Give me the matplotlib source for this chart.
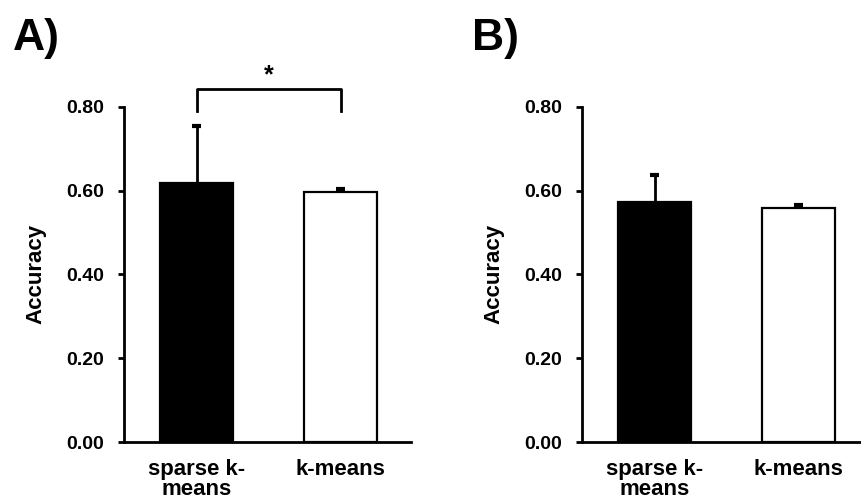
import numpy as np
import matplotlib.pyplot as plt

plt.rcParams['font.family'] = ['Liberation Sans', 'DejaVu Sans']
plt.rcParams['font.weight'] = 'bold'

# data
categories = ['sparse k-\nmeans', 'k-means']
acc_a = [0.618, 0.597]
err_a = [0.137, 0.008]
acc_b = [0.573, 0.558]
err_b = [0.065, 0.007]
yticks = [0.0, 0.2, 0.4, 0.6, 0.8]
panel_labels = ['A)', 'B)']

fig = plt.figure(figsize=(8.62, 5.04), dpi=100)
ax_a = fig.add_axes([0.1439, 0.123, 0.333, 0.665])
ax_b = fig.add_axes([0.675, 0.123, 0.333, 0.665])

x = np.arange(len(categories))
for ax, vals, errs in [(ax_a, acc_a, err_a), (ax_b, acc_b, err_b)]:
    ax.bar(x, vals, width=0.51, color=['black', 'white'], edgecolor='black',
           linewidth=1.6, zorder=2)
    # upper error bars only
    tops = np.array(vals) + np.array(errs)
    ax.vlines(x, vals, tops, color='black', lw=2, clip_on=False, zorder=1)
    ax.hlines(tops, x - 0.03, x + 0.03, color='black', lw=3, clip_on=False, zorder=1)
    ax.set_xlim(-0.505, 1.49)
    ax.set_ylim(0, 0.8)
    ax.set_yticks(yticks)
    ax.set_yticklabels([f'{v:.2f}' for v in yticks], fontsize=14, fontweight='bold')
    ax.set_xticks(x)
    ax.set_xticklabels(categories, fontsize=16, fontweight='bold', linespacing=0.95)
    ax.tick_params(axis='x', length=0, pad=12)
    ax.tick_params(axis='y', length=4.5, width=2, direction='out', pad=10)
    for s in ['top', 'right']:
        ax.spines[s].set_visible(False)
    for s in ['left', 'bottom']:
        ax.spines[s].set_linewidth(2)
    ax.set_ylabel('Accuracy', fontsize=16, fontweight='bold', labelpad=14)

# significance bracket on panel A
y_br = 0.843
ax_a.plot([x[0], x[0], x[1], x[1]], [0.79, y_br, y_br, 0.79], color='black',
          lw=2, clip_on=False)
ax_a.text((x[0] + x[1]) / 2, y_br + 0.004, '*', ha='center', va='bottom',
          fontsize=18, fontweight='bold')

fig.text(0.015, 0.9, panel_labels[0], fontsize=32, fontweight='bold')
fig.text(0.547, 0.9, panel_labels[1], fontsize=32, fontweight='bold')

fig.savefig('out.png', dpi=100)
